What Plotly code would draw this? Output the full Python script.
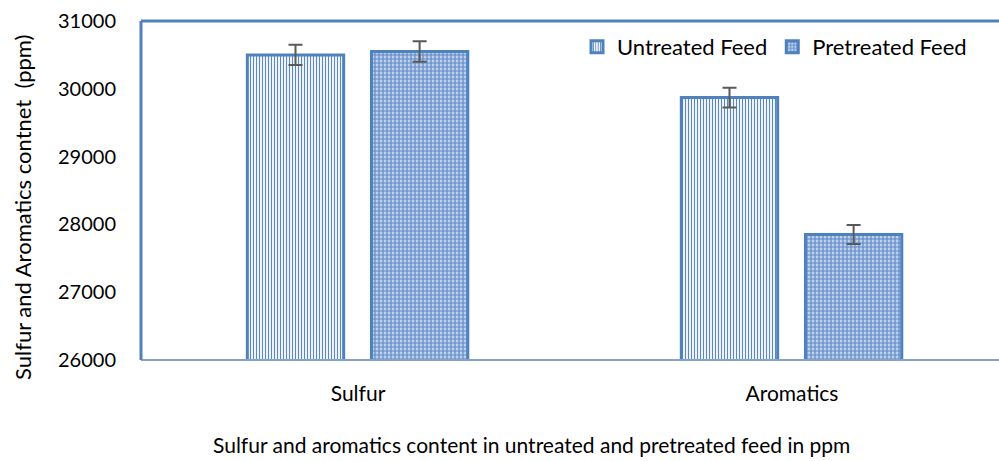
import plotly.graph_objects as go

# Feed composition (ppm) with measurement uncertainty
categories = ["Sulfur", "Aromatics"]
untreated = [30500, 29870]
pretreated = [30550, 27850]
untreated_err = [150, 145]
pretreated_err = [150, 140]

y_ticks = [26000, 27000, 28000, 29000, 30000, 31000]

BLUE = "#4F81BD"
FONT = "Lato"

# plot-area geometry in pixels, used to place the free-floating titles
PLOT_L, PLOT_T, PLOT_B = 141, 21, 360
PLOT_W = 999 - PLOT_L
PLOT_H = PLOT_B - PLOT_T

fig = go.Figure()

fig.add_trace(go.Bar(
    name="Untreated Feed",
    x=categories, y=untreated,
    width=0.222, offset=-0.255,
    marker=dict(
        color="white",
        line=dict(color=BLUE, width=3),
        pattern=dict(shape="|", size=3, solidity=0.4, fgcolor="#5A88C6", bgcolor="white", fillmode="replace"),
    ),
    error_y=dict(type="data", array=untreated_err, color="#595959", thickness=2, width=7),
))

fig.add_trace(go.Bar(
    name="Pretreated Feed",
    x=categories, y=pretreated,
    width=0.222, offset=0.031,
    marker=dict(
        color="white",
        line=dict(color=BLUE, width=3),
        pattern=dict(shape="+", size=4, solidity=0.5, fgcolor="#5F8AC7", bgcolor="#BDD0EC", fillmode="replace"),
    ),
    error_y=dict(type="data", array=pretreated_err, color="#595959", thickness=2, width=7),
))

fig.update_layout(
    width=999, height=461,
    margin=dict(l=PLOT_L, r=0, t=PLOT_T, b=461 - PLOT_B),
    paper_bgcolor="white", plot_bgcolor="white",
    font=dict(family=FONT, size=21, color="black"),
    barmode="group",
    showlegend=True,
    legend=dict(
        orientation="h", x=(577 - PLOT_L) / PLOT_W, y=(PLOT_B - 47) / PLOT_H,
        xanchor="left", yanchor="middle",
        font=dict(family=FONT, size=22, color="black"),
        bgcolor="rgba(0,0,0,0)", itemwidth=30,
    ),
    xaxis=dict(
        range=[-0.5, 1.477],
        showline=False, showgrid=False, zeroline=False,
        ticks="", tickfont=dict(family=FONT, size=21),
        ticklabelstandoff=19,
    ),
    yaxis=dict(
        range=[26000, 31000],
        tickvals=y_ticks, ticktext=[str(v) for v in y_ticks],
        showline=False, showgrid=False, zeroline=False,
        ticks="", tickfont=dict(family=FONT, size=20),
        ticklabelstandoff=24,
    ),
    shapes=[
        # bottom axis line
        dict(type="line", xref="paper", yref="paper", x0=0, x1=1, y0=0, y1=0,
             line=dict(color="#84A2CC", width=2)),
        # left border
        dict(type="line", xref="paper", yref="paper", x0=0, x1=0, y0=0, y1=1,
             line=dict(color=BLUE, width=3)),
        # top border
        dict(type="line", xref="paper", yref="paper", x0=0, x1=1, y0=1, y1=1,
             line=dict(color=BLUE, width=3)),
    ],
    annotations=[
        dict(text="Sulfur and Aromatics contnet  (ppm)", xref="paper", yref="paper",
             x=(22 - PLOT_L) / PLOT_W, y=(PLOT_B - 208) / PLOT_H, textangle=-90,
             showarrow=False, xanchor="center", yanchor="middle",
             font=dict(family=FONT, size=22, color="black")),
        dict(text="Sulfur and aromatics content in untreated and pretreated feed in ppm",
             xref="paper", yref="paper", x=(531 - PLOT_L) / PLOT_W, y=-(445 - PLOT_B) / PLOT_H,
             showarrow=False, xanchor="center", yanchor="middle",
             font=dict(family=FONT, size=21, color="black")),
    ],
)

fig.write_html("out.html")
